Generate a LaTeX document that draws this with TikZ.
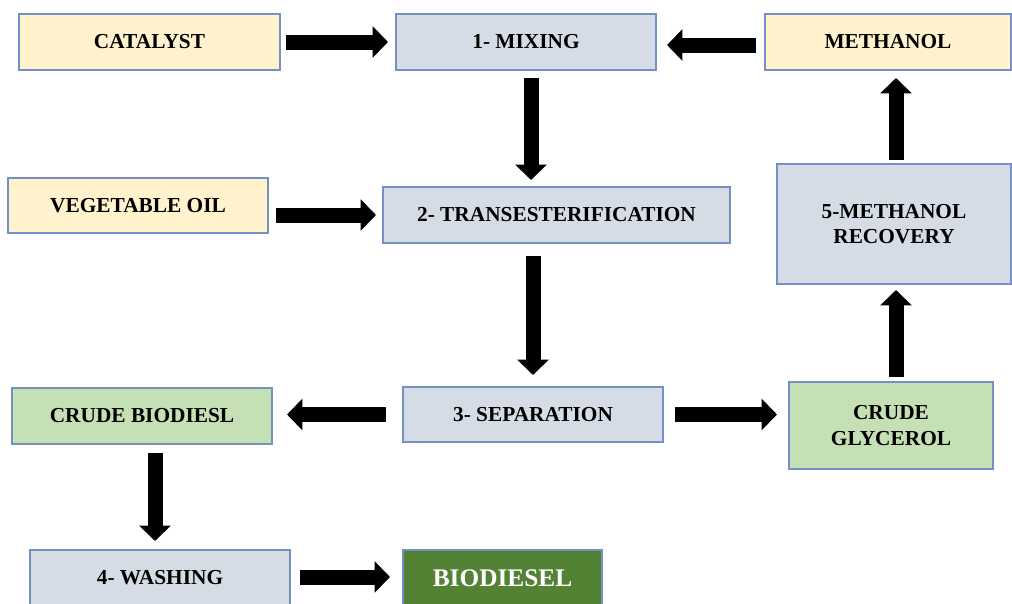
\documentclass[tikz,border=0pt]{standalone}
\usepackage{fontspec}
\setmainfont{Liberation Serif}
\usetikzlibrary{arrows.meta,calc}
\definecolor{creamfill}{HTML}{FFF2CC}
\definecolor{stepfill}{HTML}{D6DCE5}
\definecolor{greenfill}{HTML}{C5E0B4}
\definecolor{darkgreen}{HTML}{548235}
\definecolor{boxline}{HTML}{7391C4}
\tikzset{
  box/.style={draw=boxline, line width=0.8pt, inner sep=0pt, outer sep=0pt,
    align=center, font=\fontsize{16}{19}\selectfont\bfseries},
  feed/.style={box, fill=creamfill},
  stepbox/.style={box, fill=stepfill},
  product/.style={box, fill=greenfill},
  final/.style={box, fill=darkgreen, text=white, font=\fontsize{19}{22}\selectfont\bfseries},
  blockarrow/.style={line width=11.25pt, draw=black,
    -{Triangle[length=11.5pt,width=23pt]}}
}
\begin{document}
\begin{tikzpicture}[x=0.75pt,y=-0.75pt]
\useasboundingbox (0,0) rectangle (1012,603);
\clip (0,0) rectangle (1012,603);
\fill[white] (0,0) rectangle (1012,603);

% process boxes
\node[feed, minimum width=195.75pt, minimum height=42pt] (cat) at (149.5,42) {CATALYST};
\node[stepbox, minimum width=195pt, minimum height=42pt] (mix) at (526,42) {1- MIXING};
\node[feed, minimum width=184.5pt, minimum height=42pt] (meth) at (888,42) {METHANOL};
\node[feed, minimum width=195pt, minimum height=41.25pt] (veg) at (138,205.5) {VEGETABLE OIL};
\node[stepbox, minimum width=260.25pt, minimum height=42pt] (trans) at (556.5,215) {2- TRANSESTERIFICATION};
\node[stepbox, minimum width=175.5pt, minimum height=90pt] (rec) at (894,224) {5-METHANOL\\RECOVERY};
\node[product, minimum width=195pt, minimum height=42pt] (cbd) at (142,416) {CRUDE BIODIESL};
\node[stepbox, minimum width=195pt, minimum height=41.25pt] (sep) at (533,414.5) {3- SEPARATION};
\node[product, minimum width=153pt, minimum height=65.25pt] (gly) at (891,425.5) {CRUDE\\GLYCEROL};
\node[stepbox, minimum width=195pt, minimum height=42pt] (wash) at (160,578) {4- WASHING};
\node[final, minimum width=149.25pt, minimum height=42pt] (bio) at (502.5,578) {BIODIESEL};

% flow arrows
\draw[blockarrow] ($(cat.east)+(6,0)$) -- ($(mix.west)+(-8,0)$);
\draw[blockarrow] ($(meth.west)+(-9,3)$) -- ($(mix.east)+(11,3)$);
\draw[blockarrow] ($(mix.south)+(5,8)$) -- ($(mix.south |- trans.north)+(5,-7)$);
\draw[blockarrow] ($(veg.east |- trans.west)+(8,0)$) -- ($(trans.west)+(-7,0)$);
\draw[blockarrow] ($(trans.south -| sep.north)+(0,13)$) -- ($(sep.north)+(0,-12)$);
\draw[blockarrow] ($(sep.west)+(-17,0)$) -- ($(cbd.east |- sep.west)+(15,0)$);
\draw[blockarrow] ($(sep.east)+(12,0)$) -- ($(gly.west |- sep.east)+(-12,0)$);
\draw[blockarrow] ($(gly.north)+(5,-5)$) -- ($(gly.north |- rec.south)+(5,6)$);
\draw[blockarrow] ($(rec.north)+(2,-4)$) -- ($(rec.north |- meth.south)+(2,8)$);
\draw[blockarrow] ($(cbd.south)+(13,9)$) -- ($(cbd.south |- wash.north)+(13,-9)$);
\draw[blockarrow] ($(wash.east)+(10,-1)$) -- ($(bio.west)+(-13,-1)$);
\end{tikzpicture}
\end{document}
